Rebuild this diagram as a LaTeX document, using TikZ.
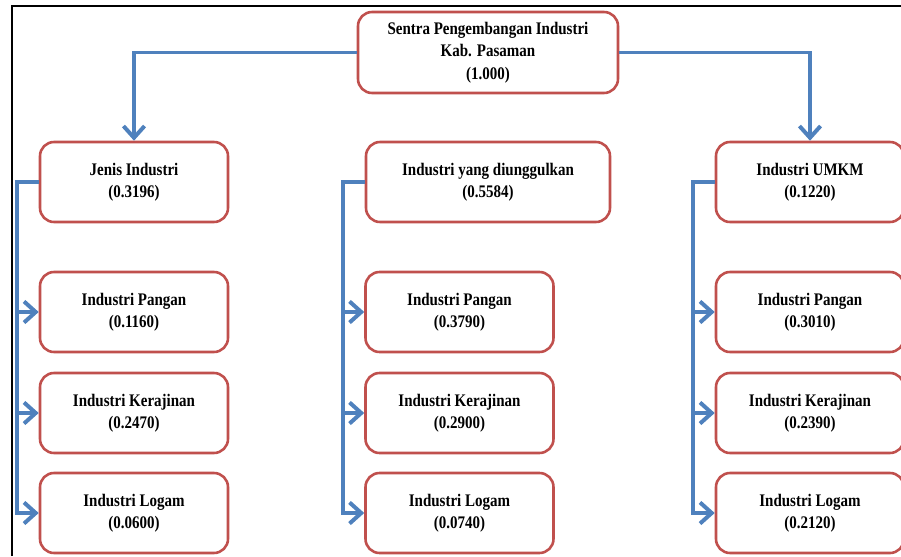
\documentclass[tikz,border=0pt]{standalone}
\usepackage{fontspec}
\setmainfont{Liberation Serif}
\usetikzlibrary{arrows.meta}
\definecolor{boxred}{HTML}{C0504D}
\definecolor{linkblue}{HTML}{4F81BD}
\newcommand{\tall}[1]{\scalebox{1}[1.18]{\textbf{#1}}}
\newcommand{\lbl}[2]{\tall{#1}\\\tall{(#2)}}

\begin{document}
\begin{tikzpicture}[x=0.03cm,y=-0.03cm,
    box/.style={draw=boxred,line width=2.2pt,rounded corners=12pt,fill=white,
      align=center,font=\fontsize{12.8}{19}\selectfont,
      minimum width=188*0.03cm,minimum height=80*0.03cm,inner sep=0pt},
    link/.style={draw=linkblue,line width=3.4pt},
    tip/.style={-{Straight Barb[length=10pt,width=18pt]}}]
  \useasboundingbox (0,0) rectangle (901,556);
  \draw[line width=1.6pt] (12,556) -- (12,6) -- (910,6);
  % nodes
  \node[box,minimum width=260*0.03cm,minimum height=81*0.03cm] (sentra) at (488,52.5)
    {\tall{Sentra Pengembangan Industri}\\\tall{Kab. Pasaman}\\\tall{(1.000)}};
  \node[box] (jenis) at (134,182) {\lbl{Jenis Industri}{0.3196}};
  \node[box,minimum width=244*0.03cm] (unggul) at (488,182) {\lbl{Industri yang diunggulkan}{0.5584}};
  \node[box] (umkm) at (810,182) {\lbl{Industri UMKM}{0.1220}};
  \node[box] (j1) at (134,312) {\lbl{Industri Pangan}{0.1160}};
  \node[box] (j2) at (134,413) {\lbl{Industri Kerajinan}{0.2470}};
  \node[box] (j3) at (134,513) {\lbl{Industri Logam}{0.0600}};
  \node[box] (u1) at (459.5,312) {\lbl{Industri Pangan}{0.3790}};
  \node[box] (u2) at (459.5,413) {\lbl{Industri Kerajinan}{0.2900}};
  \node[box] (u3) at (459.5,513) {\lbl{Industri Logam}{0.0740}};
  \node[box] (m1) at (810,312) {\lbl{Industri Pangan}{0.3010}};
  \node[box] (m2) at (810,413) {\lbl{Industri Kerajinan}{0.2390}};
  \node[box] (m3) at (810,513) {\lbl{Industri Logam}{0.2120}};
  \coordinate (kj) at (17,182);
  \coordinate (ku) at (343,182);
  \coordinate (km) at (693,182);
  % links
  \draw[link,tip] (sentra.west) -| (jenis.north);
  \draw[link,tip] (sentra.east) -| (umkm.north);
  \draw[link,tip] (jenis.west) -- (kj) |- (j3.west);
  \draw[link,tip] (kj |- j1.west) -- (j1.west);
  \draw[link,tip] (kj |- j2.west) -- (j2.west);
  \draw[link,tip] (unggul.west) -- (ku) |- (u3.west);
  \draw[link,tip] (ku |- u1.west) -- (u1.west);
  \draw[link,tip] (ku |- u2.west) -- (u2.west);
  \draw[link,tip] (umkm.west) -- (km) |- (m3.west);
  \draw[link,tip] (km |- m1.west) -- (m1.west);
  \draw[link,tip] (km |- m2.west) -- (m2.west);
\end{tikzpicture}
\end{document}
